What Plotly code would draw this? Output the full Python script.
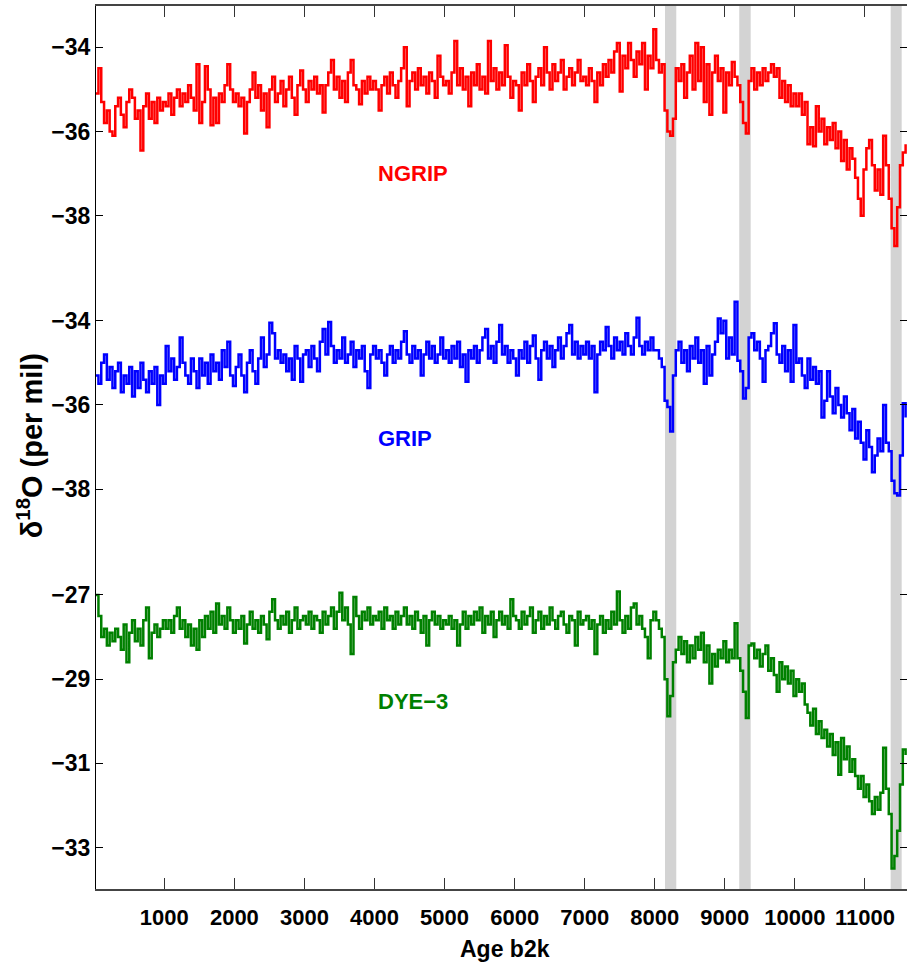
import plotly.graph_objects as go

# 40-year mean d18O records, ages in years b2k (first bin starts at 20 b2k)
AGE_START = 20
AGE_STEP = 40

NGRIP = [
    -35.1, -34.5, -35.3, -35.8, -35.5, -36.0, -36.1, -35.4, -35.2, -35.6, -35.9, -35.3, -35.0,
    -35.2, -35.7, -35.5, -36.45, -35.4, -35.1, -35.7, -35.3, -35.8, -35.2, -35.5, -35.3,
    -35.4, -35.1, -35.6, -35.2, -35.0, -35.4, -35.1, -35.3, -34.9, -35.2, -35.5, -34.4, -35.8,
    -35.3, -34.45, -35.0, -35.85, -35.2, -35.8, -35.1, -35.3, -34.9, -34.4, -35.0, -35.3,
    -35.1, -35.4, -35.2, -36.05, -35.3, -35.0, -34.6, -35.2, -34.9, -35.5, -35.1, -35.9, -35.0,
    -34.7, -35.3, -35.1, -34.8, -35.4, -35.0, -34.7, -35.2, -35.6, -34.9, -34.55, -35.0,
    -35.3, -34.8, -35.0, -34.7, -35.1, -34.9, -35.55, -34.9, -34.6, -34.3, -35.0, -34.7, -35.2,
    -34.8, -35.3, -34.6, -34.3, -34.9, -35.0, -35.35, -34.8, -35.1, -34.7, -35.0, -34.8,
    -35.0, -35.5, -34.9, -34.7, -35.1, -34.6, -34.9, -35.2, -34.8, -34.5, -34.0, -35.4, -34.8,
    -34.6, -35.0, -34.5, -34.9, -34.7, -35.1, -34.6, -34.8, -35.2, -34.2, -34.7, -34.9,
    -34.8, -35.1, -34.6, -33.85, -34.9, -34.5, -35.0, -34.7, -35.4, -34.6, -34.9, -34.4, -35.0,
    -34.7, -35.1, -33.85, -34.8, -34.5, -35.0, -34.6, -34.9, -33.95, -34.7, -35.2, -34.8,
    -34.9, -35.5, -34.6, -34.9, -34.4, -34.8, -35.3, -34.7, -34.5, -34.9, -34.0, -34.6, -35.0,
    -34.4, -34.8, -34.6, -34.3, -35.0, -34.7, -34.5, -34.9, -34.6, -34.3, -34.8, -34.7,
    -34.9, -34.5, -34.8, -35.3, -34.6, -34.9, -34.4, -34.7, -34.3, -34.6, -34.1, -33.9, -35.05,
    -34.2, -34.5, -33.9, -34.3, -34.7, -34.1, -34.4, -33.9, -35.0, -34.2, -34.5, -33.57,
    -34.3, -34.6, -34.4, -35.5, -36.0, -36.1, -35.7, -34.5, -34.8, -34.4, -35.2, -34.6, -34.2,
    -35.0, -33.9, -34.8, -34.0, -35.3, -34.4, -35.6, -34.6, -34.2, -34.8, -34.5, -35.55,
    -34.6, -34.9, -34.35, -34.7, -34.9, -35.3, -35.8, -36.05, -34.8, -34.5, -35.0, -34.6, -34.9,
    -34.5, -34.8, -34.6, -34.4, -34.7, -34.5, -35.2, -34.8, -35.3, -34.9, -35.4, -35.1,
    -35.4, -35.1, -35.6, -35.3, -36.3, -35.9, -36.35, -35.4, -36.0, -35.7, -36.3, -35.9, -36.2,
    -35.8, -36.4, -36.0, -36.7, -36.2, -36.9, -36.4, -36.65, -37.1, -37.6, -38.0, -36.9,
    -36.4, -36.2, -36.8, -37.4, -36.9, -37.5, -36.1, -36.8, -37.6, -38.3, -38.72, -37.8, -36.8,
    -36.5, -36.3,
]

GRIP = [
    -35.3, -35.5, -35.0, -34.8, -35.4, -35.1, -35.6, -35.2, -35.0, -35.7, -35.3, -35.5, -35.1,
    -35.8, -35.2, -35.6, -35.0, -35.4, -35.7, -35.2, -35.5, -35.1, -36.0, -35.3, -35.5,
    -34.6, -35.2, -34.9, -35.4, -35.1, -34.4, -35.0, -35.3, -35.5, -34.9, -35.2, -35.6, -34.9,
    -35.3, -35.0, -35.5, -34.8, -35.2, -35.0, -35.4, -34.7, -35.1, -34.5, -35.3, -35.55,
    -35.1, -34.8, -35.3, -35.7, -35.0, -34.7, -35.2, -35.5, -34.9, -34.4, -35.1, -34.8, -34.05,
    -34.3, -34.9, -34.7, -35.0, -34.8, -35.2, -34.9, -35.4, -34.6, -34.9, -35.45, -34.8,
    -34.7, -35.1, -34.6, -34.9, -35.2, -34.5, -34.2, -34.8, -34.03, -34.6, -35.0, -34.7, -34.9,
    -34.4, -35.0, -34.8, -34.5, -35.1, -34.7, -34.9, -34.6, -35.2, -35.6, -34.8, -34.6,
    -34.9, -34.7, -35.0, -35.3, -34.8, -34.6, -35.0, -34.7, -34.9, -34.5, -34.25, -34.8, -35.0,
    -34.6, -34.9, -34.7, -35.3, -34.8, -34.5, -34.9, -34.6, -35.0, -34.8, -34.4, -34.9,
    -34.7, -35.0, -34.6, -34.9, -34.5, -35.1, -34.8, -35.45, -34.7, -34.9, -34.6, -35.0, -34.7,
    -34.4, -34.2, -34.9, -34.6, -35.0, -34.5, -34.1, -34.8, -34.6, -35.0, -34.7, -34.9,
    -35.3, -34.7, -34.9, -34.5, -35.0, -34.6, -34.35, -34.9, -35.4, -34.7, -34.5, -34.9, -34.6,
    -35.1, -34.7, -34.4, -34.9, -34.6, -34.3, -34.1, -34.8, -34.5, -34.9, -34.6, -34.8,
    -34.5, -34.9, -34.6, -35.7, -34.8, -34.5, -34.7, -34.15, -34.6, -34.9, -34.4, -34.7, -34.5,
    -34.8, -34.3, -34.6, -34.8, -34.4, -33.93, -34.6, -34.8, -34.5, -34.7, -34.4, -34.7,
    -34.7, -34.9, -35.1, -35.9, -36.05, -36.63, -35.3, -34.7, -34.5, -35.0, -34.7, -35.2, -34.6,
    -34.9, -34.4, -35.0, -34.7, -35.5, -34.6, -35.3, -34.8, -34.5, -33.95, -34.3, -34.0,
    -34.9, -34.4, -34.8, -33.55, -34.95, -35.2, -35.85, -35.6, -34.4, -34.3, -34.7, -34.5, -34.9,
    -35.45, -34.7, -34.6, -34.3, -34.06, -34.8, -35.0, -34.6, -35.2, -34.7, -35.45, -34.1,
    -35.0, -34.9, -35.3, -35.6, -34.9, -35.4, -35.1, -35.5, -35.2, -36.3, -35.9, -35.2, -35.8,
    -36.2, -35.6, -36.0, -36.3, -35.8, -36.2, -36.6, -36.1, -36.8, -36.4, -36.9, -37.3,
    -36.6, -37.0, -37.6, -37.2, -36.8, -37.1, -36.0, -36.9, -37.1, -37.8, -38.1, -38.15, -37.2,
    -35.96, -36.3,
]

DYE3 = [
    -27.0, -27.5, -28.0, -27.8, -28.2, -27.9, -28.1, -27.8, -28.0, -28.3, -27.7, -28.6, -27.9,
    -27.6, -28.1, -27.8, -28.2, -27.6, -27.3, -28.5, -27.9, -27.7, -28.0, -27.8, -27.6,
    -27.8, -27.6, -27.9, -27.5, -27.3, -27.8, -27.6, -28.0, -27.7, -28.2, -27.8, -28.3, -27.6,
    -28.0, -27.5, -27.8, -27.4, -27.9, -27.2, -27.7, -27.5, -27.8, -27.3, -27.6, -27.9,
    -27.6, -27.8, -27.5, -28.15, -27.7, -27.4, -27.8, -27.6, -27.9, -27.5, -27.7, -28.05, -27.4,
    -27.1, -27.6, -27.8, -27.5, -27.7, -27.4, -27.9, -27.6, -27.3, -27.8, -27.6, -27.5,
    -27.7, -27.4, -27.8, -27.5, -27.6, -27.9, -27.4, -27.7, -27.5, -27.3, -27.8, -27.4, -26.95,
    -27.6, -27.3, -27.7, -28.4, -27.05, -27.5, -27.8, -27.4, -27.6, -27.3, -27.7, -27.5,
    -27.6, -27.4, -27.8, -27.3, -27.6, -27.5, -27.8, -27.4, -27.7, -27.5, -27.3, -27.7, -27.5,
    -27.8, -27.4, -27.6, -27.9, -27.5, -28.2, -27.6, -27.4, -27.7, -27.5, -27.8, -27.6,
    -27.7, -27.5, -27.8, -27.6, -28.2, -27.7, -27.4, -27.8, -27.5, -27.7, -27.4, -27.6, -27.3,
    -27.9, -27.5, -27.7, -27.4, -28.0, -27.6, -27.4, -27.7, -27.5, -27.8, -27.1, -27.5,
    -27.6, -27.8, -27.4, -27.7, -27.5, -27.3, -27.9, -27.6, -27.4, -27.8, -27.5, -27.7, -27.3,
    -27.6, -27.8, -27.5, -27.4, -27.7, -27.9, -27.5, -27.6, -28.2, -27.4, -27.7, -27.6,
    -27.5, -27.8, -27.6, -28.4, -27.7, -27.5, -27.9, -27.6, -27.8, -27.4, -27.7, -26.92, -27.6,
    -27.9, -27.5, -27.8, -27.3, -27.2, -27.7, -27.5, -27.8, -28.0, -28.5, -27.6, -27.4,
    -27.6, -27.8, -28.0, -29.0, -29.88, -29.4, -28.6, -28.3, -28.0, -28.4, -28.1, -28.6, -28.2,
    -28.5, -28.0, -28.3, -27.9, -28.6, -28.2, -29.1, -28.4, -28.7, -28.3, -28.5, -28.1,
    -28.6, -28.3, -28.5, -27.67, -28.5, -28.8, -29.3, -29.92, -28.2, -28.15, -28.5, -28.3, -28.7,
    -28.4, -28.2, -28.8, -28.5, -28.9, -29.3, -28.6, -29.0, -28.7, -29.1, -28.8, -29.4,
    -29.0, -29.3, -29.1, -29.6, -29.8, -30.1, -29.7, -30.3, -30.0, -30.4, -30.2, -30.6, -30.3,
    -30.8, -30.5, -31.27, -30.4, -30.9, -30.6, -31.2, -30.9, -31.3, -31.6, -31.3, -31.8,
    -31.5, -31.9, -32.2, -31.8, -32.1, -31.7, -30.63, -31.6, -32.2, -33.5, -33.2, -32.6, -31.5,
    -30.67, -30.8,
]

AGE = [AGE_START + AGE_STEP * i for i in range(len(NGRIP))]

# abrupt cooling events (8.2 ka, 9.3 ka, Preboreal oscillation)
BAND_START = [8146, 9206, 11367]
BAND_END = [8307, 9369, 11524]

X_TICKS = [1000, 2000, 3000, 4000, 5000, 6000, 7000, 8000, 9000, 10000, 11000]
X_TICK_TEXT = [str(v) for v in X_TICKS]
NGRIP_TICKS = [-34, -36, -38]
GRIP_TICKS = [-34, -36, -38]
DYE3_TICKS = [-27, -29, -31, -33]

SERIES = [
    ("NGRIP", NGRIP, "#ff0000", "y", -37.0),
    ("GRIP", GRIP, "#0000ff", "y2", -36.8),
    ("DYE\u22123", DYE3, "#008000", "y3", -29.52),
]

SANS = "Liberation Sans, Arial, Helvetica, sans-serif"

fig = go.Figure()

for name, vals, color, yax, _ in SERIES:
    fig.add_trace(go.Scatter(
        x=AGE, y=vals, mode="lines", name=name, yaxis=yax,
        line=dict(color=color, width=2.5, shape="hv"),
        showlegend=False,
    ))

for x0, x1 in zip(BAND_START, BAND_END):
    fig.add_shape(type="rect", xref="x", yref="paper", x0=x0, x1=x1, y0=0, y1=1,
                  fillcolor="#d3d3d3", line=dict(width=0), layer="below")

for name, _, color, yax, ylab in SERIES:
    fig.add_annotation(x=4020, y=ylab, xref="x", yref=yax, text="<b>%s</b>" % name,
                       showarrow=False, xanchor="left", yanchor="middle",
                       font=dict(family=SANS, size=22, color=color))

fig.add_annotation(x=0.504, y=-0.068, xref="paper", yref="paper", text="<b>Age b2k</b>",
                   showarrow=False, xanchor="center", yanchor="middle",
                   font=dict(family=SANS, size=23, color="#000"))
fig.add_annotation(x=-0.082, y=0.502, xref="paper", yref="paper",
                   text="<b>\u03b4<sup>18</sup>O (per mil)</b>", textangle=-90,
                   showarrow=False, xanchor="center", yanchor="middle",
                   font=dict(family=SANS, size=29, color="#000"))


def y_axis(rng, ticks, **extra):
    return dict(
        range=rng, tickvals=ticks,
        ticktext=["<b>\u2212%d</b>" % abs(t) for t in ticks],
        showline=True, linecolor="#000", linewidth=1.2, mirror="ticks",
        ticks="inside", ticklen=7, tickwidth=1.2, tickcolor="#000",
        showgrid=False, zeroline=False, fixedrange=True,
        tickfont=dict(family=SANS, size=23, color="#000"),
        **extra,
    )


fig.update_layout(
    width=907, height=968,
    margin=dict(l=96, r=0, t=6, b=79),
    paper_bgcolor="#fff", plot_bgcolor="#fff",
    xaxis=dict(
        range=[25, 11600], tickvals=X_TICKS,
        ticktext=["<b>%s</b>" % t for t in X_TICK_TEXT],
        ticks="inside", ticklen=11,
        tickwidth=1.2, tickcolor="#333", showline=True, linecolor="#444",
        linewidth=1.5, mirror="ticks", showgrid=False, zeroline=False,
        tickfont=dict(family=SANS, size=22, color="#000"),
        ticklabelstandoff=8,
    ),
    yaxis=y_axis([-53.993, -33.019], NGRIP_TICKS),
    yaxis2=y_axis([-47.499, -26.525], GRIP_TICKS, overlaying="y", side="left", anchor="x"),
    yaxis3=y_axis([-33.984, -13.01], DYE3_TICKS, overlaying="y", side="left", anchor="x"),
)

fig.write_html("out.html")
